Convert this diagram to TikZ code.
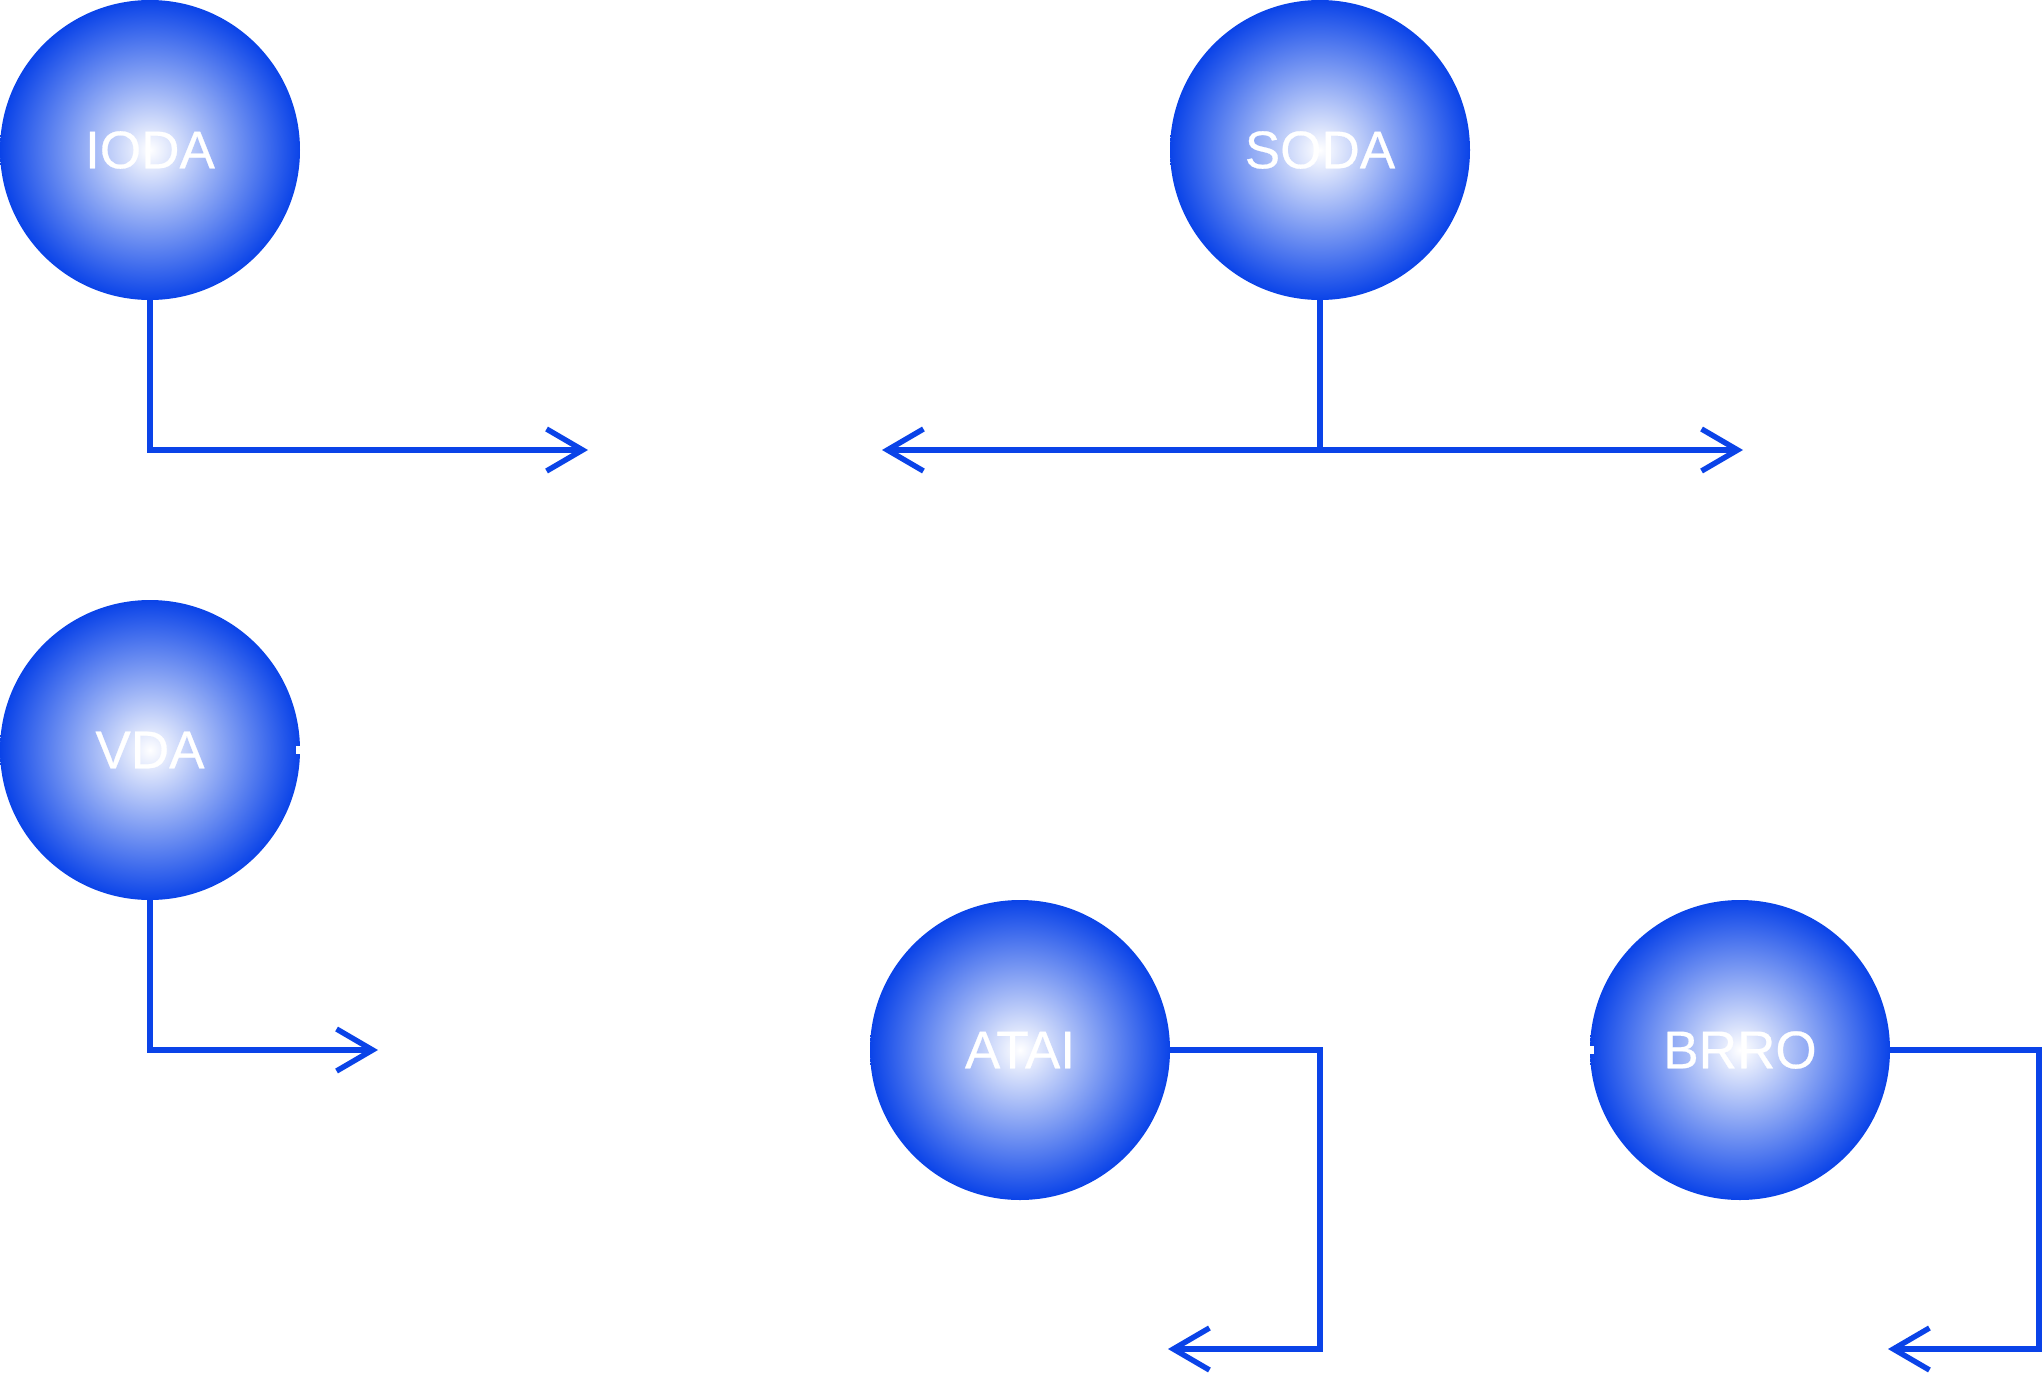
\documentclass[tikz,border=0pt]{standalone}
\usepackage{fontspec}
\setmainfont{Liberation Sans}
\newfontfamily\lblfont{Liberation Sans}[FakeBold=0.5]
\usetikzlibrary{arrows.meta}
\definecolor{myblue}{RGB}{10,67,232}
\begin{document}
\begin{tikzpicture}[x=0.75pt,y=-0.75pt,
  ball/.style={circle, minimum size=225pt, inner sep=0pt, inner color=white, outer color=myblue,
    text=white, font=\lblfont\fontsize{39.8pt}{48pt}\selectfont},
  conn/.style={draw=myblue, line width=4.1pt},
  tip/.style={-{Straight Barb[length=27pt,width=31.5pt]}},
  bothtip/.style={{Straight Barb[length=27pt,width=31.5pt]}-{Straight Barb[length=27pt,width=31.5pt]}},
  stub/.style={draw=white, line width=5.5pt}]
\useasboundingbox (0,0) rectangle (2043,1392);

\node[ball] (IODA) at (150,150) {IODA};
\node[ball] (SODA) at (1320,150) {SODA};
\node[ball] (VDA) at (150,750) {VDA};
\node[ball] (ATAI) at (1020,1050) {ATAI};
\node[ball] (BRRO) at (1740,1050) {BRRO};

\coordinate (i1) at (588,450);
\coordinate (sL) at (882,450);
\coordinate (sR) at (1743,450);
\coordinate (v1) at (378,1050);
\coordinate (a1) at (1320,1349);
\coordinate (a2) at (1168,1349);
\coordinate (b1) at (2039,1349);
\coordinate (b2) at (1888,1349);

\draw[conn,tip] (IODA.south) |- (i1);
\draw[conn,bothtip] (sL) -- (sR);
\draw[conn] (SODA.south) -- (SODA.south |- sL);
\draw[conn,tip] (VDA.south) |- (v1);
\draw[conn,tip] (ATAI.east) -| (a1) -- (a2);
\draw[conn,tip] (BRRO.east) -| (b1) -- (b2);

\draw[stub] ([xshift=-3pt]VDA.east) -- ([xshift=2pt]VDA.east);
\draw[stub] ([xshift=-2pt]BRRO.west) -- ([xshift=3pt]BRRO.west);
\end{tikzpicture}
\end{document}
